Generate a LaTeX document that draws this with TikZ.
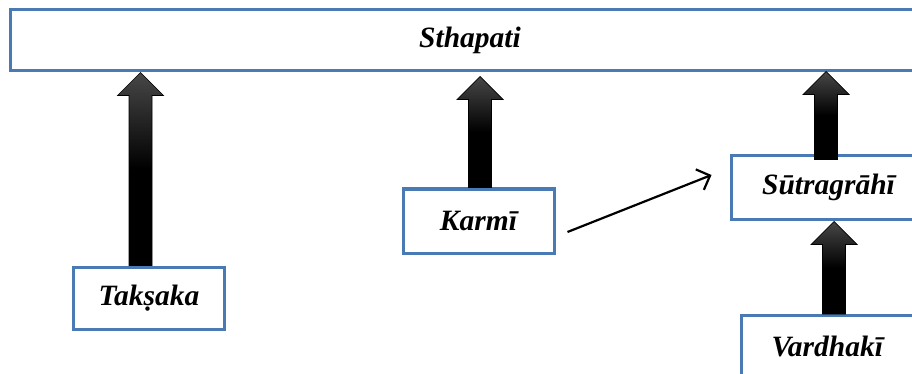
\documentclass[tikz,border=0pt]{standalone}
\usepackage{fontspec}
\setmainfont{Liberation Serif}
\usetikzlibrary{calc,arrows.meta}
\definecolor{boxblue}{RGB}{74,122,180}
\tikzset{
  x=1pt, y=1pt,
  lbl/.style={draw=boxblue, line width=3pt, fill=white, rectangle, inner sep=0pt,
    font=\fontsize{29.5}{35}\selectfont\bfseries\itshape},
  blockarrow/.style={draw=black, line width=0.7pt, top color=black!72, bottom color=black, middle color=black},
  thinarrow/.style={line width=2.2pt, -{Straight Barb[length=11pt, width=22pt, line width=2.2pt]}}
}
\newcommand\blockarrow[2]{%
  \path[blockarrow] let \p1=#1, \p2=#2 in
    (\x1-11.5pt,\y1) -- (\x1-11.5pt,\y2-23pt) -- (\x1-23pt,\y2-23pt) -- (\x1,\y2)
    -- (\x1+23pt,\y2-23pt) -- (\x1+11.5pt,\y2-23pt) -- (\x1+11.5pt,\y1) -- cycle;}
\begin{document}
\begin{tikzpicture}
\useasboundingbox (0,0) rectangle (912,-374);
\clip (0,0) rectangle (912,-374);
\fill[white] (0,0) rectangle (912,-374);
\node[lbl, minimum width=920pt, minimum height=61pt] (sthapati) at (470,-40.5) {Sthapati};
\node[lbl, minimum width=151pt, minimum height=62pt] (takshaka) at (149,-298) {Takṣaka};
\node[lbl, minimum width=151pt, minimum height=64pt] (karmi) at (478.5,-221) {Karmī};
\node[lbl, minimum width=195pt, minimum height=63pt] (sutra) at (828.5,-187.5) {Sūtragrāhī};
\node[lbl, text width=200pt, align=left, inner xsep=30pt, minimum height=62pt, anchor=north west] (vardhaki) at (740,-314) {Vardhakī};
% block arrows
\blockarrow{([xshift=-8.5pt]takshaka.north)}{([xshift=-8.5pt]takshaka.north |- sthapati.south)}
\blockarrow{([xshift=1.5pt]karmi.north)}{([xshift=1.5pt,yshift=-4pt]karmi.north |- sthapati.south)}
\blockarrow{([xshift=-2.5pt,yshift=-5pt]sutra.north)}{([xshift=-2.5pt,yshift=1pt]sutra.north |- sthapati.south)}
\blockarrow{(vardhaki.north -| 834,0)}{([yshift=-1pt]sutra.south -| 834,0)}
% thin arrow
\coordinate (k1) at ([shift={(12pt,-11pt)}]karmi.east);
\coordinate (s1) at ([shift={(-18pt,12.5pt)}]sutra.west);
\draw[thinarrow] (k1) -- (s1);
\end{tikzpicture}
\end{document}
